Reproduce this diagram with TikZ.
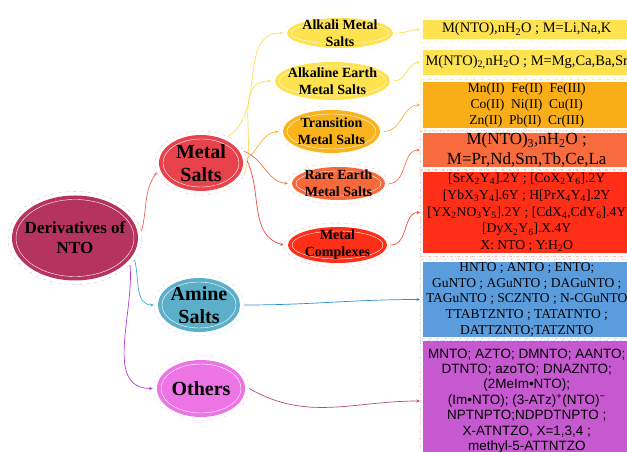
\documentclass[tikz,border=0pt]{standalone}
\usepackage{fontspec}
\setmainfont{Liberation Serif}
\newfontfamily\sansfnt{Liberation Sans}
\usetikzlibrary{shapes.geometric,arrows.meta,calc}

\definecolor{cRoot}{HTML}{B5345F}
\definecolor{cMS}{HTML}{E8434D}
\definecolor{cAm}{HTML}{5BAFC8}
\definecolor{cOt}{HTML}{EC74E4}
\definecolor{cYel}{HTML}{FEE24F}
\definecolor{cTr}{HTML}{F9B31D}
\definecolor{cRe}{HTML}{F7693A}
\definecolor{cCx}{HTML}{FF2E17}
\definecolor{cBoxTr}{HTML}{F9AE18}
\definecolor{cBoxRe}{HTML}{F76B3C}
\definecolor{cBoxAm}{HTML}{5B9CDC}
\definecolor{cBoxOt}{HTML}{C658D0}
\definecolor{lnMS}{HTML}{F0605A}
\definecolor{lnAm}{HTML}{39ABCF}
\definecolor{lnOt}{HTML}{B43CD8}
\definecolor{lnYel}{HTML}{FFDD55}
\definecolor{lnTr}{HTML}{F9B030}
\definecolor{lnRe}{HTML}{F77048}
\definecolor{lnCx}{HTML}{F04A40}
\definecolor{lnBAm}{HTML}{2C8CD4}
\definecolor{lnBOt}{HTML}{B04A80}

\tikzset{
  >={Stealth[length=3.5pt,width=3pt]},
  bub/.style={ellipse, draw=#1!30, dash dot, line width=0.5pt, inner sep=-10pt, align=center,
    path picture={
      \fill[#1] let \p1=(path picture bounding box.south west), \p2=(path picture bounding box.north east) in
        (path picture bounding box.center) ellipse ({(\x2-\x1)/2-4pt} and {(\y2-\y1)/2-4pt});
      \draw[white, solid, line width=0.4pt] let \p1=(path picture bounding box.south west), \p2=(path picture bounding box.north east) in
        (path picture bounding box.center) ellipse ({(\x2-\x1)/2-8pt} and {(\y2-\y1)/2-8pt});
    }},
  box/.style={rectangle, draw=#1!30, dash dot, line width=0.5pt, inner sep=0pt, anchor=west,
    minimum width=213pt, align=center,
    path picture={\fill[#1] ([shift={(3pt,3pt)}]path picture bounding box.south west) rectangle ([shift={(-3pt,-3pt)}]path picture bounding box.north east);}},
  ln/.style={draw=#1, line width=0.7pt, ->}
}

\begin{document}
\begin{tikzpicture}[x=1pt,y=1pt]
\useasboundingbox (0,0) rectangle (627,452);

% main branches
\node[bub=cRoot, minimum width=134pt, minimum height=93pt, font=\fontsize{17}{20}\selectfont\bfseries] (root) at (75,214) {Derivatives of\\NTO};
\node[bub=cMS, minimum width=92pt, minimum height=64pt, font=\fontsize{20}{23}\selectfont\bfseries] (ms) at (201,289) {Metal\\Salts};
\node[bub=cAm, minimum width=90pt, minimum height=62pt, font=\fontsize{20}{23}\selectfont\bfseries] (am) at (199,147) {Amine\\Salts};
\node[bub=cOt, minimum width=96pt, minimum height=65pt, font=\fontsize{20}{23}\selectfont\bfseries] (ot) at (201,63.5) {Others};

% metal salt classes
\node[bub=cYel, minimum width=114pt, minimum height=38pt, font=\fontsize{14}{17}\selectfont\bfseries] (ak) at (340,419) {Alkali Metal\\Salts};
\node[bub=cYel, minimum width=123pt, minimum height=46pt, font=\fontsize{14}{17}\selectfont\bfseries] (ae) at (332.5,371) {Alkaline Earth\\Metal Salts};
\node[bub=cTr, minimum width=105pt, minimum height=51pt, font=\fontsize{14}{17}\selectfont\bfseries] (tm) at (331.5,320.5) {Transition\\Metal Salts};
\node[bub=cRe, minimum width=101pt, minimum height=41pt, font=\fontsize{14}{17}\selectfont\bfseries] (re) at (338.5,268.5) {Rare Earth\\Metal Salts};
\node[bub=cCx, minimum width=107pt, minimum height=44pt, font=\fontsize{14}{17}\selectfont\bfseries] (mc) at (337.5,207) {Metal\\Complexes};

% compound boxes
\node[box=cYel, minimum height=25pt, font=\fontsize{14.5}{17}\selectfont] (bA) at (420,422.5) {M(NTO),nH\textsubscript{2}O ; M=Li,Na,K};
\node[box=cYel, minimum height=31pt, font=\fontsize{14.5}{17}\selectfont] (bB) at (420,389.5) {M(NTO)\textsubscript{2,}nH\textsubscript{2}O ; M=Mg,Ca,Ba,Sr};
\node[box=cBoxTr, minimum height=52pt, font=\fontsize{13.5}{16}\selectfont] (bC) at (420,347) {Mn(II)\ \ Fe(II)\ \ Fe(III)\\Co(II)\ \ Ni(II)\ \ Cu(II)\\Zn(II)\ \ Pb(II)\ \ Cr(III)};
\node[box=cBoxRe, minimum height=40pt, font=\fontsize{17}{20}\selectfont] (bD) at (420,302) {M(NTO)\textsubscript{3},nH\textsubscript{2}O ;\\M=Pr,Nd,Sm,Tb,Ce,La};
\node[box=cCx, minimum height=87pt, font=\fontsize{13.6}{16.8}\selectfont] (bE) at (420,239.5) {{[}SrX\textsubscript{2}Y\textsubscript{4}].2Y ; [CoX\textsubscript{2}Y\textsubscript{6}].2Y\\
  {[}YbX\textsubscript{3}Y\textsubscript{4}].6Y ; H[PrX\textsubscript{4}Y\textsubscript{4}].2Y\\
  {[}YX\textsubscript{2}NO\textsubscript{3}Y\textsubscript{5}].2Y ; [CdX\textsubscript{4},CdY\textsubscript{6}].4Y\\
  {[}DyX\textsubscript{2}Y\textsubscript{6}].X.4Y\\
  X: NTO ; Y:H\textsubscript{2}O};
\node[box=cBoxAm, minimum height=81pt, font=\fontsize{13.5}{15.8}\selectfont] (bF) at (420,152.5) {HNTO ; ANTO ; ENTO;\\
  GuNTO ; AGuNTO ; DAGuNTO ;\\
  TAGuNTO ; SCZNTO ; N-CGuNTO\\
  TTABTZNTO ; TATATNTO ;\\
  DATTZNTO;TATZNTO};
\node[box=cBoxOt, minimum height=126pt, font=\sansfnt\fontsize{13.5}{15.4}\selectfont] (bG) at (420,51) {MNTO; AZTO; DMNTO; AANTO;\\
  DTNTO; azoTO; DNAZNTO;\\
  (2MeIm•NTO);\\
  (Im•NTO); (3-ATz)\textsuperscript{+}(NTO)\textsuperscript{−}\\
  NPTNPTO;NDPDTNPTO ;\\
  X-ATNTZO, X=1,3,4 ;\\
  methyl-5-ATTNTZO};

% connectors
\draw[ln=lnMS] (root.6) to[out=75,in=235] (ms.192);
\draw[ln=lnAm] (root.-20) to[out=-75,in=180] (am.west);
\draw[ln=lnOt] (root.-26) to[out=-85,in=180] (ot.west);

\draw[ln=lnYel] (ms.45) to[out=30,in=180] (ak.west);
\draw[ln=lnYel] (ms.-15) to[out=70,in=180] (ae.west);
\draw[ln=lnTr] (ms.5) to[out=40,in=185] (tm.west);
\draw[ln=lnRe] (ms.15) to[out=-20,in=175] (re.west);
\draw[ln=lnCx] (ms.3) to[out=-65,in=165] (mc.west);

\draw[ln=lnYel] (ak.east) to[out=0,in=180] (bA.west);
\draw[ln=lnYel] (ae.east) to[out=0,in=180] (bB.west);
\draw[ln=lnTr] (tm.east) to[out=0,in=180] (bC.west);
\draw[ln=lnRe] (re.east) to[out=0,in=180] (bD.west);
\draw[ln=lnCx] (mc.east) to[out=0,in=180] (bE.west);
\draw[ln=lnBAm] (am.east) to[out=0,in=180] (bF.west);
\draw[ln=lnBOt] (ot.east) to[out=-30,in=180] (bG.west);
\end{tikzpicture}
\end{document}
